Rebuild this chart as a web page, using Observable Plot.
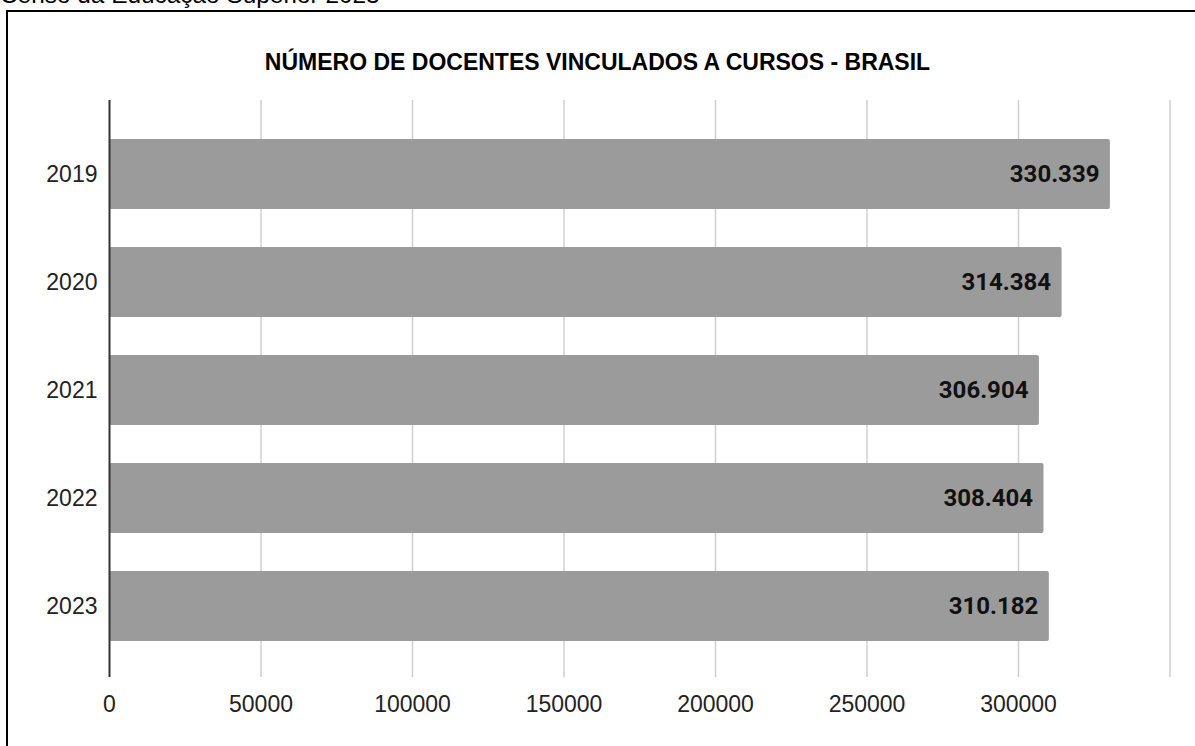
<!DOCTYPE html>
<html>
<head>
<meta charset="utf-8">
<script src="https://cdn.jsdelivr.net/npm/d3@7"></script>
<script src="https://cdn.jsdelivr.net/npm/@observablehq/plot@0.6"></script>
<style>
  html, body { margin: 0; padding: 0; background: #fff; overflow: hidden; width: 1195px; height: 746px; }
  #wrap { position: relative; width: 1195px; height: 746px; overflow: hidden; }
  #caption { position: absolute; left: 0; top: -18px; line-height: 26px; font-family: "Liberation Sans", Arial, sans-serif; font-size: 24.4px; color: #000; white-space: nowrap; }
  #box { position: absolute; left: 6px; top: 9.5px; width: 1300px; height: 900px; border: 2.5px solid #000; box-sizing: border-box; }
  #title { position: absolute; left: 0; width: 1195px; top: 48px; line-height: 28px; text-align: center; font-family: "Liberation Sans", Arial, sans-serif; font-weight: bold; font-size: 23px; color: #000; }
  #chart { position: absolute; left: 0; top: 0; }
</style>
</head>
<body>
<div id="wrap">
  <div id="caption">Censo da Educação Superior 2023</div>
  <div id="box"></div>
  <div id="title">NÚMERO DE DOCENTES VINCULADOS A CURSOS - BRASIL</div>
  <div id="chart"></div>
</div>
<script>
const years = ["2019", "2020", "2021", "2022", "2023"];
const docentes = [330339, 314384, 306904, 308404, 310182];
const xTicks = [0, 50000, 100000, 150000, 200000, 250000, 300000];
const gridTicks = [50000, 100000, 150000, 200000, 250000, 300000, 350000];

const data = years.map((y, i) => ({year: y, value: docentes[i]}));
const fmt = d => d.toLocaleString("pt-BR");

const chart = Plot.plot({
  width: 1195,
  height: 746,
  marginLeft: 109,
  marginRight: 25.5,
  marginTop: 100,
  marginBottom: 69,
  style: {fontFamily: "'Liberation Sans', Arial, sans-serif", background: "transparent", overflow: "visible"},
  x: {domain: [0, 350000]},
  y: {domain: years, paddingInner: 0.352, paddingOuter: 0.347, align: 0.52},
  marks: [
    Plot.ruleX(gridTicks, {stroke: "#cfcfcf", strokeWidth: 1.5}),
    Plot.barX(data, {x: "value", y: "year", fill: "#9b9b9b", rx: 2}),
    Plot.ruleX([0], {stroke: "#333", strokeWidth: 2}),
    Plot.text(data, {x: "value", y: "year", text: d => fmt(d.value), textAnchor: "end", dx: -11, fontSize: 24, fontWeight: "bold", fontFamily: "Roboto, sans-serif", fill: "#111"}),
    Plot.axisX({ticks: xTicks, tickSize: 0, tickPadding: 18, fontSize: 23, tickFormat: d => String(d), label: null, color: "#222"}),
    Plot.axisY({tickSize: 0, tickPadding: 12, fontSize: 23, label: null, color: "#222"})
  ]
});
document.getElementById("chart").appendChild(chart);
</script>
</body>
</html>
